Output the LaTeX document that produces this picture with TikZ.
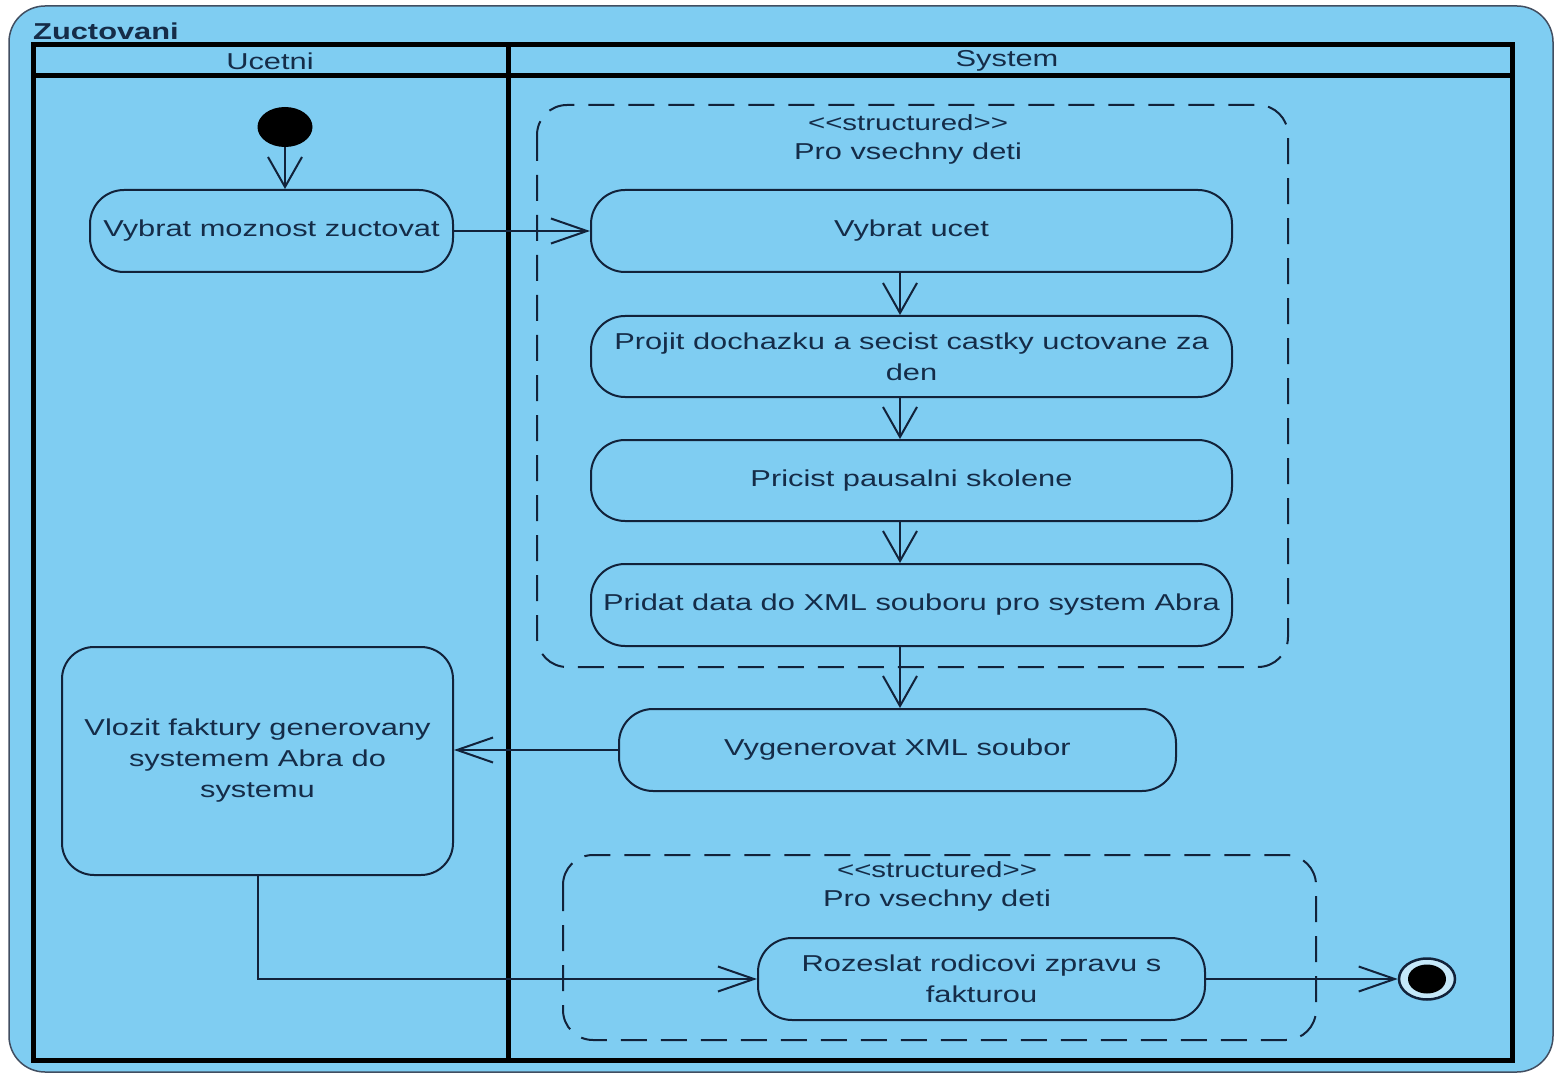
\documentclass[tikz,border=0pt]{standalone}
\usepackage{fontspec}
\setmainfont{Liberation Sans}[FakeStretch=1.34]
\usetikzlibrary{arrows.meta,shapes.geometric}
\definecolor{bgblue}{HTML}{7FCDF2}
\definecolor{edge}{HTML}{12223A}
\definecolor{txt}{HTML}{152C48}
\begin{document}
\begin{tikzpicture}[x=1pt,y=-1pt,
  action/.style={draw=edge,line width=2pt,rounded corners=34pt,align=center,text=txt,
    font=\fontsize{23}{31}\selectfont,inner sep=0pt},
  region/.style={draw=edge,line width=2pt,dash pattern=on 26pt off 14pt,rounded corners=30pt},
  lbl/.style={text=txt,font=\fontsize{23}{31}\selectfont,inner sep=0pt},
  stereo/.style={text=txt,font=\fontsize{22}{26}\selectfont,inner sep=0pt},
  flow/.style={draw=edge,line width=2pt},
  varrow/.style={flow,-{Straight Barb[length=30pt,width=34pt,line width=2pt]}},
  harrow/.style={flow,-{Straight Barb[length=36pt,width=25pt,line width=2pt]}},
  pool/.style={draw=black,line width=5pt}
]
\useasboundingbox (0,0) rectangle (1556,1075);
\fill[white] (0,0) rectangle (1556,1075);
% outer frame
\draw[fill=bgblue,draw=edge!80,line width=1.5pt,rounded corners=36pt] (9,6) rectangle (1553,1072);
\node[anchor=west,text=txt,font=\bfseries\fontsize{23}{26}\selectfont,inner sep=0pt] (title) at (33,31) {Zuctovani};
% pool
\draw[pool] (33,45) rectangle (1512,1060);
\draw[pool] (33,76) -- (1512,76);
\draw[pool] (508,45) -- (508,1060);
\node[lbl] (laneA) at (270,61) {Ucetni};
\node[lbl] (laneB) at (1007,61) {System};
% regions
\draw[region] (537,105) rectangle (1288,667);
\node[stereo] (st1) at (908,123) {<{}<structured>{}>};
\node[lbl] (pv1) at (908,154) {Pro vsechny deti};
\draw[region] (563,855) rectangle (1316,1040);
\node[stereo] (st2) at (937,870) {<{}<structured>{}>};
\node[lbl] (pv2) at (937,901) {Pro vsechny deti};
% nodes
\node[ellipse,fill=black,minimum width=55pt,minimum height=40pt,inner sep=0pt] (init) at (285,127) {};
\node[action,minimum width=363pt,minimum height=82pt] (A) at (271.5,231) {Vybrat moznost zuctovat};
\node[action,minimum width=641pt,minimum height=82pt] (B) at (911.5,231) {Vybrat ucet};
\node[action,minimum width=641pt,minimum height=81pt] (C) at (911.5,356.5) {Projit dochazku a secist castky uctovane za\\den};
\node[action,minimum width=641pt,minimum height=81pt] (D) at (911.5,480.5) {Pricist pausalni skolene};
\node[action,minimum width=641pt,minimum height=82pt] (E) at (911.5,605) {Pridat data do XML souboru pro system Abra};
\node[action,minimum width=557pt,minimum height=82pt] (F) at (897.5,750) {Vygenerovat XML soubor};
\node[action,rounded corners=32pt,minimum width=391pt,minimum height=228pt] (G) at (257.5,761) {Vlozit faktury generovany\\systemem Abra do\\systemu};
\node[action,minimum width=447pt,minimum height=82pt] (H) at (981.5,979) {Rozeslat rodicovi zpravu s\\fakturou};
\node[ellipse,draw=edge,line width=2.5pt,fill=white!55!bgblue,minimum width=56pt,minimum height=41pt,inner sep=0pt] (fin) at (1427,979) {};
\node[ellipse,fill=black,minimum width=38pt,minimum height=29pt,inner sep=0pt] (fininner) at (1427,979) {};
\coordinate (xc) at (900,0);
% connectors
\draw[varrow] (init.south) -- (init.south |- A.north);
\draw[harrow] (A.east) -- (B.west);
\draw[varrow] (B.south -| xc) -- (C.north -| xc);
\draw[varrow] (C.south -| xc) -- (D.north -| xc);
\draw[varrow] (D.south -| xc) -- (E.north -| xc);
\draw[varrow] (E.south -| xc) -- (F.north -| xc);
\draw[harrow] (F.west) -- (F.west -| G.east);
\draw[harrow] (G.south) -- (G.south |- H.west) -- (H.west);
\draw[harrow] (H.east) -- (fin.west);
\end{tikzpicture}
\end{document}
